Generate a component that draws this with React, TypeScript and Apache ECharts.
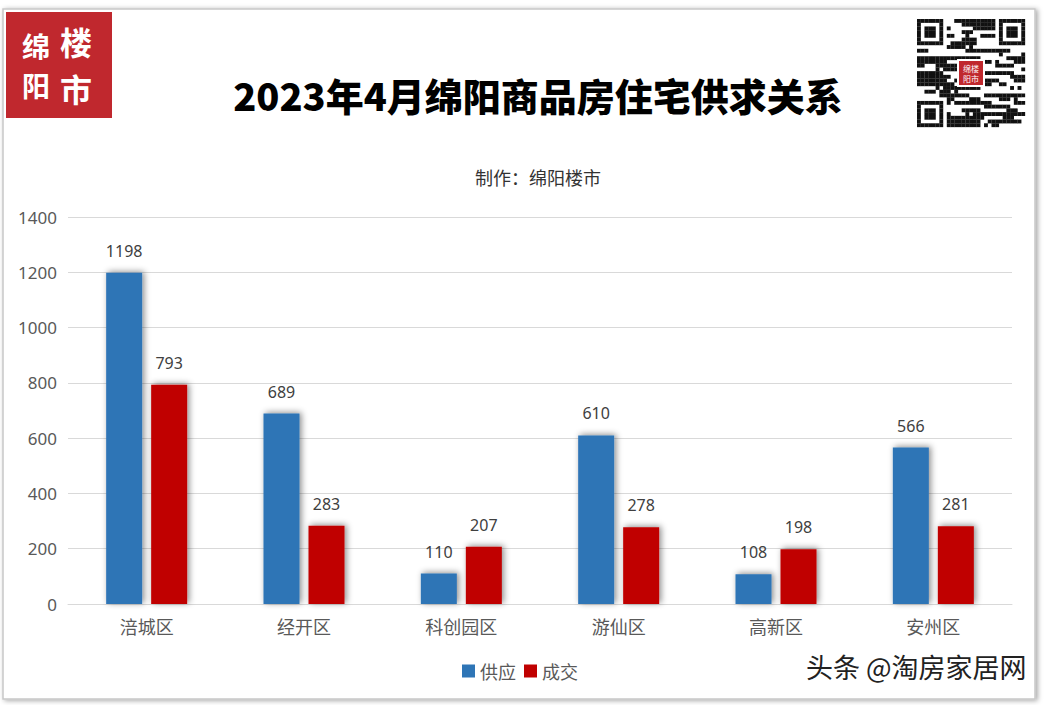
import React, { useEffect, useRef } from "react";
import * as echarts from "echarts";

const categories = ["涪城区", "经开区", "科创园区", "游仙区", "高新区", "安州区"];
const supply = [1198, 689, 110, 610, 108, 566];
const deal = [793, 283, 207, 278, 198, 281];
const yTicks = [0, 200, 400, 600, 800, 1000, 1200, 1400];
const seriesNames = ["供应", "成交"];

const QN = 29;

function qrModules(): { x: number; y: number }[] {
  const n = QN;
  const out: { x: number; y: number }[] = [];
  const finderAt = (r: number, c: number, r0: number, c0: number) => {
    const R = r - r0, C = c - c0;
    if (R < 0 || R > 6 || C < 0 || C > 6) return null;
    if (R === 0 || R === 6 || C === 0 || C === 6) return true;
    if (R >= 2 && R <= 4 && C >= 2 && C <= 4) return true;
    return false;
  };
  const zone = (r: number, c: number) =>
    (r < 8 && c < 8) || (r < 8 && c >= n - 8) || (r >= n - 8 && c < 8);
  let seed = 98765;
  const next = () => {
    seed = (seed * 1103515245 + 12345) & 0x7fffffff;
    return seed;
  };
  for (let r = 0; r < n; r++) {
    for (let c = 0; c < n; c++) {
      const v = next();
      if (zone(r, c)) {
        const f =
          finderAt(r, c, 0, 0) ?? finderAt(r, c, 0, n - 7) ?? finderAt(r, c, n - 7, 0);
        if (f) out.push({ x: c, y: r });
      } else if (r >= 11 && r <= 17 && c >= 11 && c <= 17) {
        // logo area
      } else if ((v >> 9) % 2 === 0) {
        out.push({ x: c, y: r });
      }
    }
  }
  return out;
}

export default function App() {
  const ref = useRef<HTMLDivElement>(null);
  useEffect(() => {
    if (!ref.current) return;
    const chart = echarts.init(ref.current, null, { renderer: "svg" });
    const qx = 917, qy = 19, ms = 108 / QN;
    const qr = qrModules().map((m) => ({
      type: "rect",
      shape: { x: qx + m.x * ms, y: qy + m.y * ms, width: ms + 0.15, height: ms + 0.15 },
      style: { fill: "#111" },
      silent: true,
    }));
    const barShadow = {
      shadowBlur: 6,
      shadowColor: "rgba(0,0,0,0.45)",
      shadowOffsetX: 2,
      shadowOffsetY: -1,
    };
    const labelStyle = {
      show: true,
      position: "top",
      distance: 14,
      fontSize: 16,
      color: "#404040",
      fontFamily: "Noto Sans",
    };
    const logoText = (t: string, x: number, y: number, s: number) => ({
      type: "text",
      x,
      y,
      style: {
        text: t,
        fontSize: s,
        fontWeight: "bold",
        fill: "#fff",
        align: "center",
        verticalAlign: "middle",
        fontFamily: "Noto Sans CJK SC",
      },
      silent: true,
    });
    chart.setOption({
      animation: false,
      backgroundColor: "#fff",
      title: [
        {
          text: "2023年4月绵阳商品房住宅供求关系",
          left: 533,
          top: 70,
          textAlign: "center",
          textStyle: {
            fontSize: 38,
            fontWeight: 900,
            color: "#000",
            fontFamily: "Noto Sans CJK SC",
          },
        },
        {
          text: "制作：绵阳楼市",
          left: 533,
          top: 163,
          textAlign: "center",
          textStyle: {
            fontSize: 18,
            fontWeight: "normal",
            color: "#333",
            fontFamily: "Noto Sans CJK SC",
          },
        },
      ],
      legend: {
        data: seriesNames,
        left: 457,
        top: 657,
        itemWidth: 13,
        itemHeight: 13,
        itemGap: 8,
        icon: "rect",
        textStyle: { fontSize: 18, color: "#595959", fontFamily: "Noto Sans CJK SC" },
      },
      grid: { left: 68, right: 34, top: 217, bottom: 101 },
      xAxis: {
        type: "category",
        data: categories,
        axisLine: { lineStyle: { color: "#d9d9d9", width: 1 } },
        axisTick: { show: false },
        axisLabel: {
          fontSize: 18,
          color: "#595959",
          margin: 13,
          fontFamily: "Noto Sans CJK SC",
        },
      },
      yAxis: {
        type: "value",
        min: 0,
        max: 1400,
        interval: 200,
        axisLine: { show: false },
        axisTick: { show: false },
        splitLine: { lineStyle: { color: "#d9d9d9", width: 1 } },
        axisLabel: {
          fontSize: 17,
          color: "#595959",
          margin: 11,
          fontFamily: "Noto Sans",
          formatter: (v: number) => (yTicks.includes(v) ? String(v) : ""),
        },
      },
      series: [
        {
          name: seriesNames[0],
          type: "bar",
          data: supply,
          barWidth: 36,
          barGap: "25%",
          itemStyle: { color: "#2E75B6", ...barShadow },
          label: labelStyle,
        },
        {
          name: seriesNames[1],
          type: "bar",
          data: deal,
          barWidth: 36,
          itemStyle: { color: "#C00000", ...barShadow },
          label: labelStyle,
        },
      ],
      graphic: [
        {
          type: "rect",
          z: -10,
          shape: { x: 3, y: 9, width: 1032, height: 690 },
          style: {
            fill: "#fff",
            stroke: "#c8c8c8",
            lineWidth: 1.5,
            shadowBlur: 5,
            shadowColor: "rgba(0,0,0,0.35)",
            shadowOffsetX: 2,
            shadowOffsetY: 1,
          },
          silent: true,
        },
        {
          type: "rect",
          shape: { x: 6, y: 12, width: 106, height: 106 },
          style: { fill: "#C0282E" },
          silent: true,
        },
        logoText("绵", 36, 46, 28),
        logoText("阳", 36, 85, 28),
        logoText("楼", 76, 41, 32),
        logoText("市", 76, 88, 32),
        ...qr,
        {
          type: "rect",
          shape: { x: 957, y: 59, width: 28, height: 28 },
          style: { fill: "#fff" },
          silent: true,
        },
        {
          type: "rect",
          shape: { x: 959, y: 61, width: 24, height: 24 },
          style: { fill: "#C0282E" },
          silent: true,
        },
        {
          type: "text",
          x: 971,
          y: 73,
          style: {
            text: "绵楼\n阳市",
            fontSize: 8,
            lineHeight: 10,
            fill: "#fff",
            align: "center",
            verticalAlign: "middle",
            fontFamily: "Noto Sans CJK SC",
          },
          silent: true,
        },
        {
          type: "text",
          x: 806,
          y: 653,
          style: {
            text: "头条 @淘房家居网",
            fontSize: 27,
            fill: "#222",
            stroke: "#fff",
            lineWidth: 3,
            fontFamily: "Noto Sans CJK SC",
          },
          silent: true,
        },
      ],
    });
    return () => chart.dispose();
  }, []);
  return (
    <div
      ref={ref}
      style={{ position: "fixed", left: 0, top: 0, width: 1046, height: 705 }}
    />
  );
}
